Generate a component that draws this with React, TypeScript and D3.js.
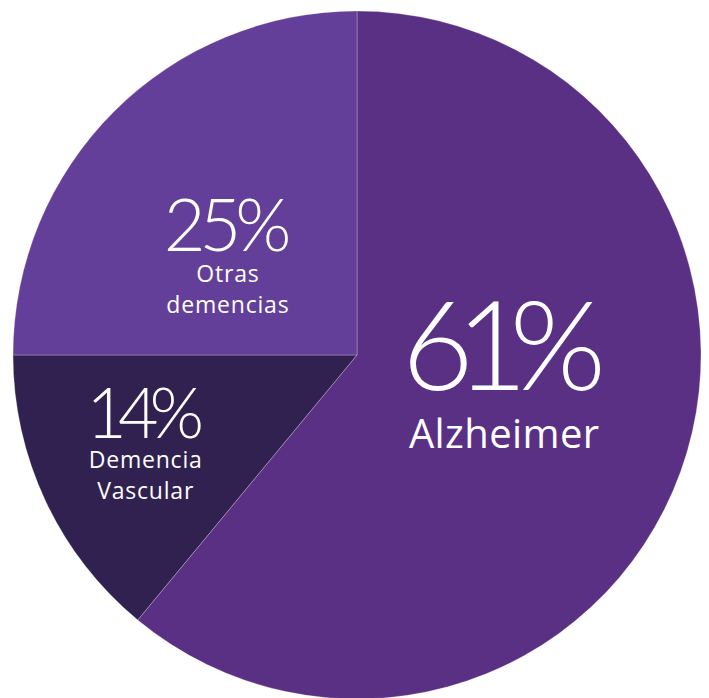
import * as d3 from "d3";
import { useEffect, useRef } from "react";

// datos del gráfico
const categories = ["Alzheimer", "Demencia Vascular", "Otras demencias"];
const values = [61, 14, 25];
const labelLines = [["Alzheimer"], ["Demencia", "Vascular"], ["Otras", "demencias"]];
const colors = ["#5a3084", "#302151", "#643f99"];

export default function App() {
  const ref = useRef<SVGSVGElement | null>(null);

  useEffect(() => {
    if (!ref.current) return;
    const width = 709;
    const height = 698;
    const cx = 357;
    const cy = 355;
    const radius = 344;

    const svg = d3.select(ref.current);
    svg.selectAll("*").remove();

    const data = categories.map((c, i) => ({ name: c, value: values[i], lines: labelLines[i], color: colors[i] }));
    const pie = d3
      .pie<(typeof data)[0]>()
      .sort(null)
      .value((d) => d.value)
      .startAngle(0)
      .endAngle(2 * Math.PI);
    const arcs = pie(data);
    const arc = d3.arc<d3.PieArcDatum<(typeof data)[0]>>().innerRadius(0).outerRadius(radius);

    const g = svg.append("g").attr("transform", `translate(${cx},${cy})`);

    g.selectAll("path")
      .data(arcs)
      .join("path")
      .attr("d", arc)
      .attr("fill", (d) => d.data.color)
      .attr("stroke", "rgba(255,255,255,0.25)")
      .attr("stroke-width", 1);

    // posición de etiquetas: radio y ajuste por sector
    const labelR = [148, 228, 161];
    const labelShift = [-0.06, 0.06, -0.16];
    const labelDx = [5, 0, 1];
    const bigSize = [124, 70, 72];
    const bigY = [-7, -2, -10];
    const bigLs = [-18, -9, -6];
    const smallSize = [40, 23, 23];
    const smallY = [51, 28, 21];
    const smallLs = [0.4, 0.8, 0.8];
    const lineGap = [0, 31, 31];

    arcs.forEach((d, i) => {
      const a = (d.startAngle + d.endAngle) / 2 + labelShift[i];
      const x = Math.sin(a) * labelR[i] + labelDx[i];
      const y = -Math.cos(a) * labelR[i];
      const t = g
        .append("g")
        .attr("transform", `translate(${x},${y})`)
        .attr("fill", "#fff")
        .attr("text-anchor", "middle");
      t.append("text")
        .attr("x", bigLs[i] / 2)
        .attr("y", bigY[i])
        .style("font-family", "Lato, sans-serif")
        .style("font-size", `${bigSize[i]}px`)
        .style("font-weight", 300)
        .style("letter-spacing", `${bigLs[i]}px`)
        .text(`${d.data.value}%`);
      d.data.lines.forEach((line, j) => {
        t.append("text")
          .attr("x", smallLs[i] / 2)
          .attr("y", smallY[i] + j * lineGap[i])
          .style("font-family", "'Open Sans', sans-serif")
          .style("font-size", `${smallSize[i]}px`)
          .style("font-weight", 400)
          .style("letter-spacing", `${smallLs[i]}px`)
          .text(line);
      });
    });

    svg.attr("width", width).attr("height", height);
  }, []);

  return (
    <svg
      ref={ref}
      width={709}
      height={698}
      style={{ position: "absolute", left: 0, top: 0, display: "block", background: "#fff" }}
    />
  );
}
